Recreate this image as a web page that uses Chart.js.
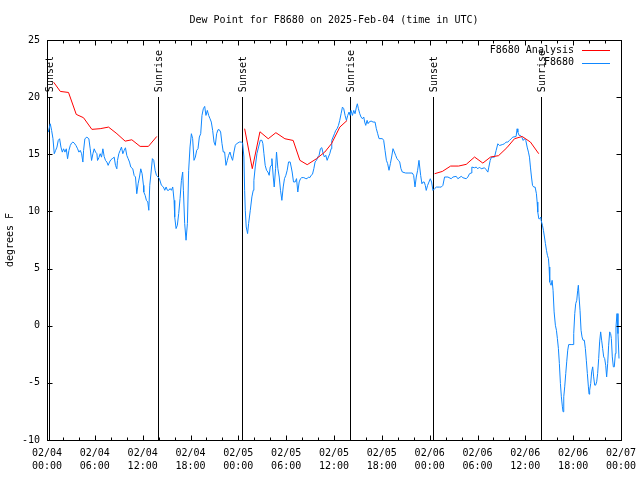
<!DOCTYPE html>
<html>
<head>
<meta charset="utf-8">
<script src="https://cdn.jsdelivr.net/npm/chart.js@4/dist/chart.umd.min.js"></script>
<style>
html,body{margin:0;padding:0;background:#fff;}
#wrap{width:640px;height:480px;position:relative;}
</style>
</head>
<body>
<div id="wrap"><canvas id="c" width="640" height="480"></canvas></div>
<script>
const chartTitle = 'Dew Point for F8680 on 2025-Feb-04 (time in UTC)';
const yAxisTitle = 'degrees F';
const xTickLabels = ['02/04 00:00','02/04 06:00','02/04 12:00','02/04 18:00','02/05 00:00','02/05 06:00','02/05 12:00','02/05 18:00','02/06 00:00','02/06 06:00','02/06 12:00','02/06 18:00','02/07 00:00'];
const seriesNames = ['F8680 Analysis', 'F8680'];

const sunHours = [0.3, 13.97, 24.42, 38.02, 48.41, 61.93];
const sunLabels = ['Sunset','Sunrise','Sunset','Sunrise','Sunset','Sunrise'];

const analysisHours = [0.83,1.67,2.70,3.67,4.58,5.63,6.67,7.72,8.77,9.80,10.64,11.68,12.72,13.77,
  19,
  24.79,25.75,26.71,27.75,28.71,29.84,30.88,31.72,32.64,33.80,34.85,35.69,36.73,37.64,
  43,
  48.62,49.59,50.63,51.63,52.59,53.63,54.67,55.64,56.64,57.68,58.64,59.60,60.64,61.68];
const analysisValues = [21.31,20.50,20.41,18.49,18.20,17.18,17.24,17.38,16.80,16.15,16.27,15.69,15.69,16.56,
  null,
  17.24,13.74,16.97,16.36,16.89,16.36,16.21,14.47,14.09,14.61,15.20,15.93,17.38,17.96,
  null,
  13.30,13.50,13.97,13.97,14.12,14.76,14.23,14.76,14.88,15.57,16.36,16.56,16.07,15.05];

const obsHours = [
  0.16,0.41,0.58,0.75,0.91,1.08,1.25,1.41,1.58,1.75,
  1.92,2.08,2.25,2.42,2.58,2.75,2.92,3.08,3.25,3.42,
  3.63,3.84,4.00,4.17,4.34,4.50,4.59,4.75,5.00,5.25,
  5.42,5.59,5.76,5.92,6.09,6.26,6.34,6.51,6.67,6.84,
  7.01,7.17,7.34,7.51,7.67,7.84,8.01,8.18,8.43,8.59,
  8.76,8.84,9.01,9.18,9.34,9.51,9.68,9.84,10.01,10.18,
  10.35,10.51,10.76,10.93,11.10,11.26,11.43,11.60,11.76,11.93,
  12.10,
  12.14,12.31,12.47,12.64,12.77,12.89,13.06,13.22,13.39,13.56,
  13.73,13.93,14.10,14.35,14.60,14.77,14.94,15.10,15.27,15.44,
  15.60,15.77,15.94,16.02,16.19,16.35,16.52,16.69,16.86,17.02,
  17.11,17.27,17.44,17.61,17.77,17.94,18.11,18.27,18.44,18.61,
  18.78,18.94,19.11,19.28,19.44,19.61,19.78,19.94,20.11,20.28,
  20.45,20.61,20.78,20.95,21.11,21.28,21.45,21.61,21.78,21.95,
  22.11,22.28,22.45,22.62,22.78,22.95,23.12,23.28,23.45,23.62,
  23.78,23.95,
  24.12,24.37,24.54,24.70,24.79,24.87,24.99,25.16,25.29,25.50,
  25.70,25.87,25.95,26.12,26.33,26.54,26.75,26.96,27.08,27.21,
  27.37,27.54,27.71,27.87,28.00,28.12,28.21,28.38,28.50,28.67,
  28.79,28.96,29.13,29.29,29.46,29.63,29.79,29.96,30.13,30.30,
  30.50,30.63,30.75,30.92,31.13,31.30,31.46,31.63,31.80,31.96,
  32.21,32.47,32.63,32.80,32.97,33.13,33.30,33.47,33.63,33.80,
  33.97,34.13,34.30,34.47,34.64,34.80,34.97,35.14,35.30,35.47,
  35.64,
  35.72,35.89,36.06,36.22,36.39,36.56,36.72,36.89,37.06,37.22,
  37.39,37.56,37.72,37.89,38.02,38.14,38.31,38.48,38.64,38.81,
  38.93,39.06,39.23,39.39,39.56,39.73,39.85,39.98,40.15,40.27,
  40.40,40.65,40.90,41.15,41.31,41.48,41.65,41.90,42.07,42.23,
  42.40,42.57,42.73,42.90,43.07,43.23,43.40,43.57,43.73,43.90,
  44.07,44.24,44.40,44.57,44.99,45.40,45.82,45.99,46.16,46.32,
  46.49,46.66,
  46.87,47.03,47.16,47.32,47.45,47.57,47.74,47.91,48.08,48.24,
  48.41,48.62,48.83,49.24,49.45,49.66,49.87,50.29,50.70,50.91,
  51.33,51.54,51.96,52.17,52.58,52.79,53.00,53.21,53.29,53.63,
  53.84,54.04,54.25,54.46,54.88,55.09,55.30,55.42,55.59,55.75,
  56.13,56.34,56.55,56.76,57.17,57.38,57.59,57.80,58.01,58.22,
  58.43,58.84,
  58.97,59.06,59.22,59.39,59.56,59.73,59.89,60.06,60.23,60.39,
  60.52,60.64,60.77,60.90,61.06,61.23,61.39,61.48,61.56,61.69,
  61.81,61.94,61.98,62.15,62.27,62.40,62.52,62.65,62.77,62.90,
  62.98,63.06,63.15,63.23,63.36,63.48,63.61,63.77,63.90,64.02,
  64.15,64.27,64.40,64.52,64.65,64.73,64.82,64.94,65.07,65.19,
  65.32,65.44,65.74,65.99,66.07,66.20,66.32,66.45,66.57,66.65,
  66.74,66.86,66.99,67.11,67.24,67.40,67.53,67.65,67.78,67.91,
  67.99,68.07,68.20,68.32,68.45,68.57,68.70,68.82,68.95,69.07,
  69.20,69.32,69.45,69.57,69.70,69.83,69.95,70.08,70.20,70.33,
  70.45,70.58,70.70,70.79,70.91,71.04,71.16,71.29,71.37,71.50,
  71.62,71.75
];
const obsValues = [
  16.94,17.67,17.09,16.36,15.05,15.34,15.63,16.21,16.36,15.63,
  15.19,15.48,15.19,15.48,14.61,15.34,15.77,15.98,16.07,15.98,
  15.77,15.48,15.19,15.34,15.05,14.32,15.34,16.36,16.50,16.36,
  15.48,14.46,15.05,15.48,15.19,15.05,14.46,14.70,15.05,14.75,
  15.48,14.81,14.46,14.32,14.03,14.32,14.52,14.61,14.75,14.03,
  13.73,14.46,15.05,15.34,15.63,15.05,15.34,15.57,14.90,14.61,
  14.32,13.88,13.73,13.15,13.01,11.55,12.42,13.01,13.73,13.30,
  12.28,
  11.70,11.41,10.97,10.83,10.10,12.29,13.45,14.62,14.47,13.60,
  13.16,13.01,12.87,12.29,12.14,11.85,12.14,11.85,11.85,12.00,
  11.85,12.14,10.97,9.52,8.50,8.79,9.81,11.12,12.72,13.45,
  11.85,8.94,7.48,8.94,13.60,15.64,16.80,16.37,14.47,14.76,
  15.35,15.49,16.51,16.80,18.40,18.99,19.19,18.40,18.84,18.40,
  18.11,17.82,17.09,16.07,15.78,16.80,17.15,17.15,16.95,15.93,
  15.20,15.20,14.03,14.47,14.91,15.20,14.76,14.47,15.20,15.78,
  15.93,15.99,
  16.07,16.07,15.99,14.76,11.85,10.10,8.64,8.06,8.94,10.10,
  11.27,11.85,12.72,13.89,15.05,15.64,16.22,16.22,15.93,15.05,
  14.03,13.60,13.45,13.16,13.89,14.03,14.62,13.01,12.14,13.74,
  15.20,13.74,13.01,11.85,10.97,12.14,12.87,13.16,13.60,14.33,
  14.33,13.89,13.45,12.58,12.58,12.87,11.70,12.58,12.87,12.96,
  12.96,12.87,12.87,13.01,12.96,13.16,13.25,13.74,14.33,14.47,
  14.76,14.91,15.49,15.58,15.05,14.76,14.91,14.47,14.76,15.05,
  15.49,
  16.22,16.51,16.80,17.09,17.24,17.53,17.97,18.55,19.13,18.99,
  18.40,17.97,18.40,18.70,18.40,18.84,18.40,18.84,18.55,19.13,
  19.42,18.99,18.55,18.26,18.11,18.26,17.82,17.53,17.97,17.68,
  17.82,17.91,17.82,17.82,17.24,16.80,16.37,16.37,16.37,16.22,
  15.35,14.47,14.18,13.60,14.18,14.76,15.49,15.20,14.91,14.62,
  14.47,14.33,13.74,13.45,13.36,13.36,13.36,13.16,12.14,13.01,
  13.60,14.47,
  13.15,12.42,12.57,12.57,12.28,11.84,12.28,12.57,12.86,12.57,
  11.84,11.99,12.13,12.13,12.13,12.28,13.01,13.01,12.86,13.01,
  13.07,12.86,13.07,12.95,12.86,13.01,13.30,13.36,13.88,13.82,
  13.88,13.73,13.88,13.73,13.82,13.65,13.44,13.88,14.46,14.75,
  14.75,15.34,15.92,15.77,15.86,15.92,16.07,16.07,16.21,16.36,
  16.50,16.56,
  17.23,16.94,16.65,16.65,16.50,16.21,16.36,16.21,15.63,15.19,
  14.75,13.88,13.01,12.28,12.13,12.13,11.55,10.82,9.95,9.36,
  9.36,9.51,9.22,8.78,8.34,7.76,7.18,6.60,6.16,5.87,
  5.14,3.83,3.68,3.54,3.97,3.10,1.21,0.04,-0.40,-1.12,
  -2.00,-3.31,-5.06,-6.22,-7.10,-7.53,-6.22,-5.35,-4.18,-3.16,
  -2.14,-1.65,-1.65,-1.65,-0.69,1.06,1.93,2.22,3.10,3.54,
  2.52,1.35,-0.40,-0.98,-1.27,-1.27,-2.00,-3.02,-4.18,-5.35,
  -5.99,-5.64,-5.06,-4.04,-3.60,-4.48,-5.20,-5.20,-4.91,-4.18,
  -2.87,-1.42,-0.54,-1.27,-2.00,-2.73,-2.87,-3.46,-4.48,-3.31,
  -1.71,-0.54,-0.69,-1.12,-2.73,-3.60,-3.60,-2.44,-0.11,1.06,
  -0.69,-2.87
];

const FONT = 'DejaVu Sans Mono';
Chart.defaults.font.family = FONT;
Chart.defaults.font.size = 10;
Chart.defaults.color = '#000';

const RED = '#ff0000';
const BLUE = '#0f87ff';

const toPts = (xs, ys) => xs.map((x, i) => ({x: x, y: ys[i]}));

const decorPlugin = {
  id: 'decor',
  beforeDatasetsDraw(chart) {
    const ctx = chart.ctx, xs = chart.scales.x, ys = chart.scales.y;
    const y20 = ys.getPixelForValue(20), yb = ys.getPixelForValue(-10);
    ctx.save();
    ctx.strokeStyle = '#000';
    ctx.lineWidth = 1;
    ctx.fillStyle = '#000';
    ctx.font = '10px ' + FONT;
    sunHours.forEach((h, i) => {
      const px = Math.round(xs.getPixelForValue(h)) + 0.5;
      ctx.beginPath();
      ctx.moveTo(px, Math.round(y20));
      ctx.lineTo(px, yb);
      ctx.stroke();
      ctx.save();
      ctx.translate(px + 1, y20 - 5);
      ctx.rotate(-Math.PI / 2);
      ctx.textAlign = 'left';
      ctx.textBaseline = 'middle';
      ctx.fillText(sunLabels[i], 0, 0);
      ctx.restore();
    });
    ctx.restore();
  },
  afterDraw(chart) {
    const ctx = chart.ctx, a = chart.chartArea, xs = chart.scales.x, ys = chart.scales.y;
    ctx.save();
    ctx.strokeStyle = '#000';
    ctx.lineWidth = 1;
    const L = Math.round(a.left) + 0.5, R = Math.round(a.right) + 0.5;
    const T = Math.round(a.top) + 0.5, B = Math.round(a.bottom) + 0.5;
    ctx.strokeRect(L, T, R - L, B - T);
    ctx.beginPath();
    for (let h = 0; h <= 72; h += 2) {
      const px = Math.round(xs.getPixelForValue(h)) + 0.5;
      const len = (h % 6 === 0) ? 5 : 3;
      ctx.moveTo(px, B); ctx.lineTo(px, B - len);
      ctx.moveTo(px, T); ctx.lineTo(px, T + len);
    }
    for (let v = -10; v <= 25; v += 5) {
      const py = Math.round(ys.getPixelForValue(v)) + 0.5;
      ctx.moveTo(L, py); ctx.lineTo(L + 5, py);
      ctx.moveTo(R, py); ctx.lineTo(R - 5, py);
    }
    ctx.stroke();
    ctx.fillStyle = '#000';
    ctx.font = '10px ' + FONT;
    ctx.textAlign = 'center';
    ctx.textBaseline = 'middle';
    ctx.fillText(chartTitle, (a.left + a.right) / 2, 20);
    ctx.save();
    ctx.translate(10, (a.top + a.bottom) / 2);
    ctx.rotate(-Math.PI / 2);
    ctx.fillText(yAxisTitle, 0, 0);
    ctx.restore();
    const colors = [RED, BLUE];
    seriesNames.forEach((name, i) => {
      const y = 50 + i * 12.5;
      ctx.textAlign = 'right';
      ctx.fillStyle = '#000';
      ctx.fillText(name, a.right - 47, y);
      ctx.strokeStyle = colors[i];
      ctx.beginPath();
      ctx.moveTo(a.right - 39, Math.round(y) + 0.5);
      ctx.lineTo(a.right - 11, Math.round(y) + 0.5);
      ctx.stroke();
    });
    ctx.restore();
  }
};

new Chart(document.getElementById('c'), {
  type: 'line',
  data: {
    datasets: [
      {label: seriesNames[0], data: toPts(analysisHours, analysisValues), borderColor: RED, borderWidth: 1, pointRadius: 0, tension: 0, spanGaps: false, fill: false},
      {label: seriesNames[1], data: toPts(obsHours, obsValues), borderColor: BLUE, borderWidth: 1, pointRadius: 0, tension: 0, fill: false}
    ]
  },
  options: {
    responsive: false,
    animation: false,
    layout: {padding: {left: 0, right: 19, top: 40, bottom: 0}},
    plugins: {legend: {display: false}, tooltip: {enabled: false}, title: {display: false}},
    scales: {
      x: {
        type: 'linear', min: 0, max: 72,
        afterFit: s => { s.height = 40; s.paddingLeft = 0; s.paddingRight = 0; },
        grid: {display: false, drawTicks: false},
        border: {display: false},
        ticks: {
          stepSize: 6, autoSkip: false, maxRotation: 0, padding: 7,
          font: {family: FONT, size: 10, lineHeight: 1.3},
          callback: v => { const i = Math.round(v / 6); return xTickLabels[i] ? xTickLabels[i].split(' ') : ''; }
        }
      },
      y: {
        min: -10, max: 25,
        afterFit: s => { s.width = 47; s.paddingTop = 0; s.paddingBottom = 0; },
        grid: {display: false, drawTicks: false},
        border: {display: false},
        ticks: {stepSize: 5, padding: 7, font: {family: FONT, size: 10}}
      }
    }
  },
  plugins: [decorPlugin]
});
</script>
</body>
</html>
